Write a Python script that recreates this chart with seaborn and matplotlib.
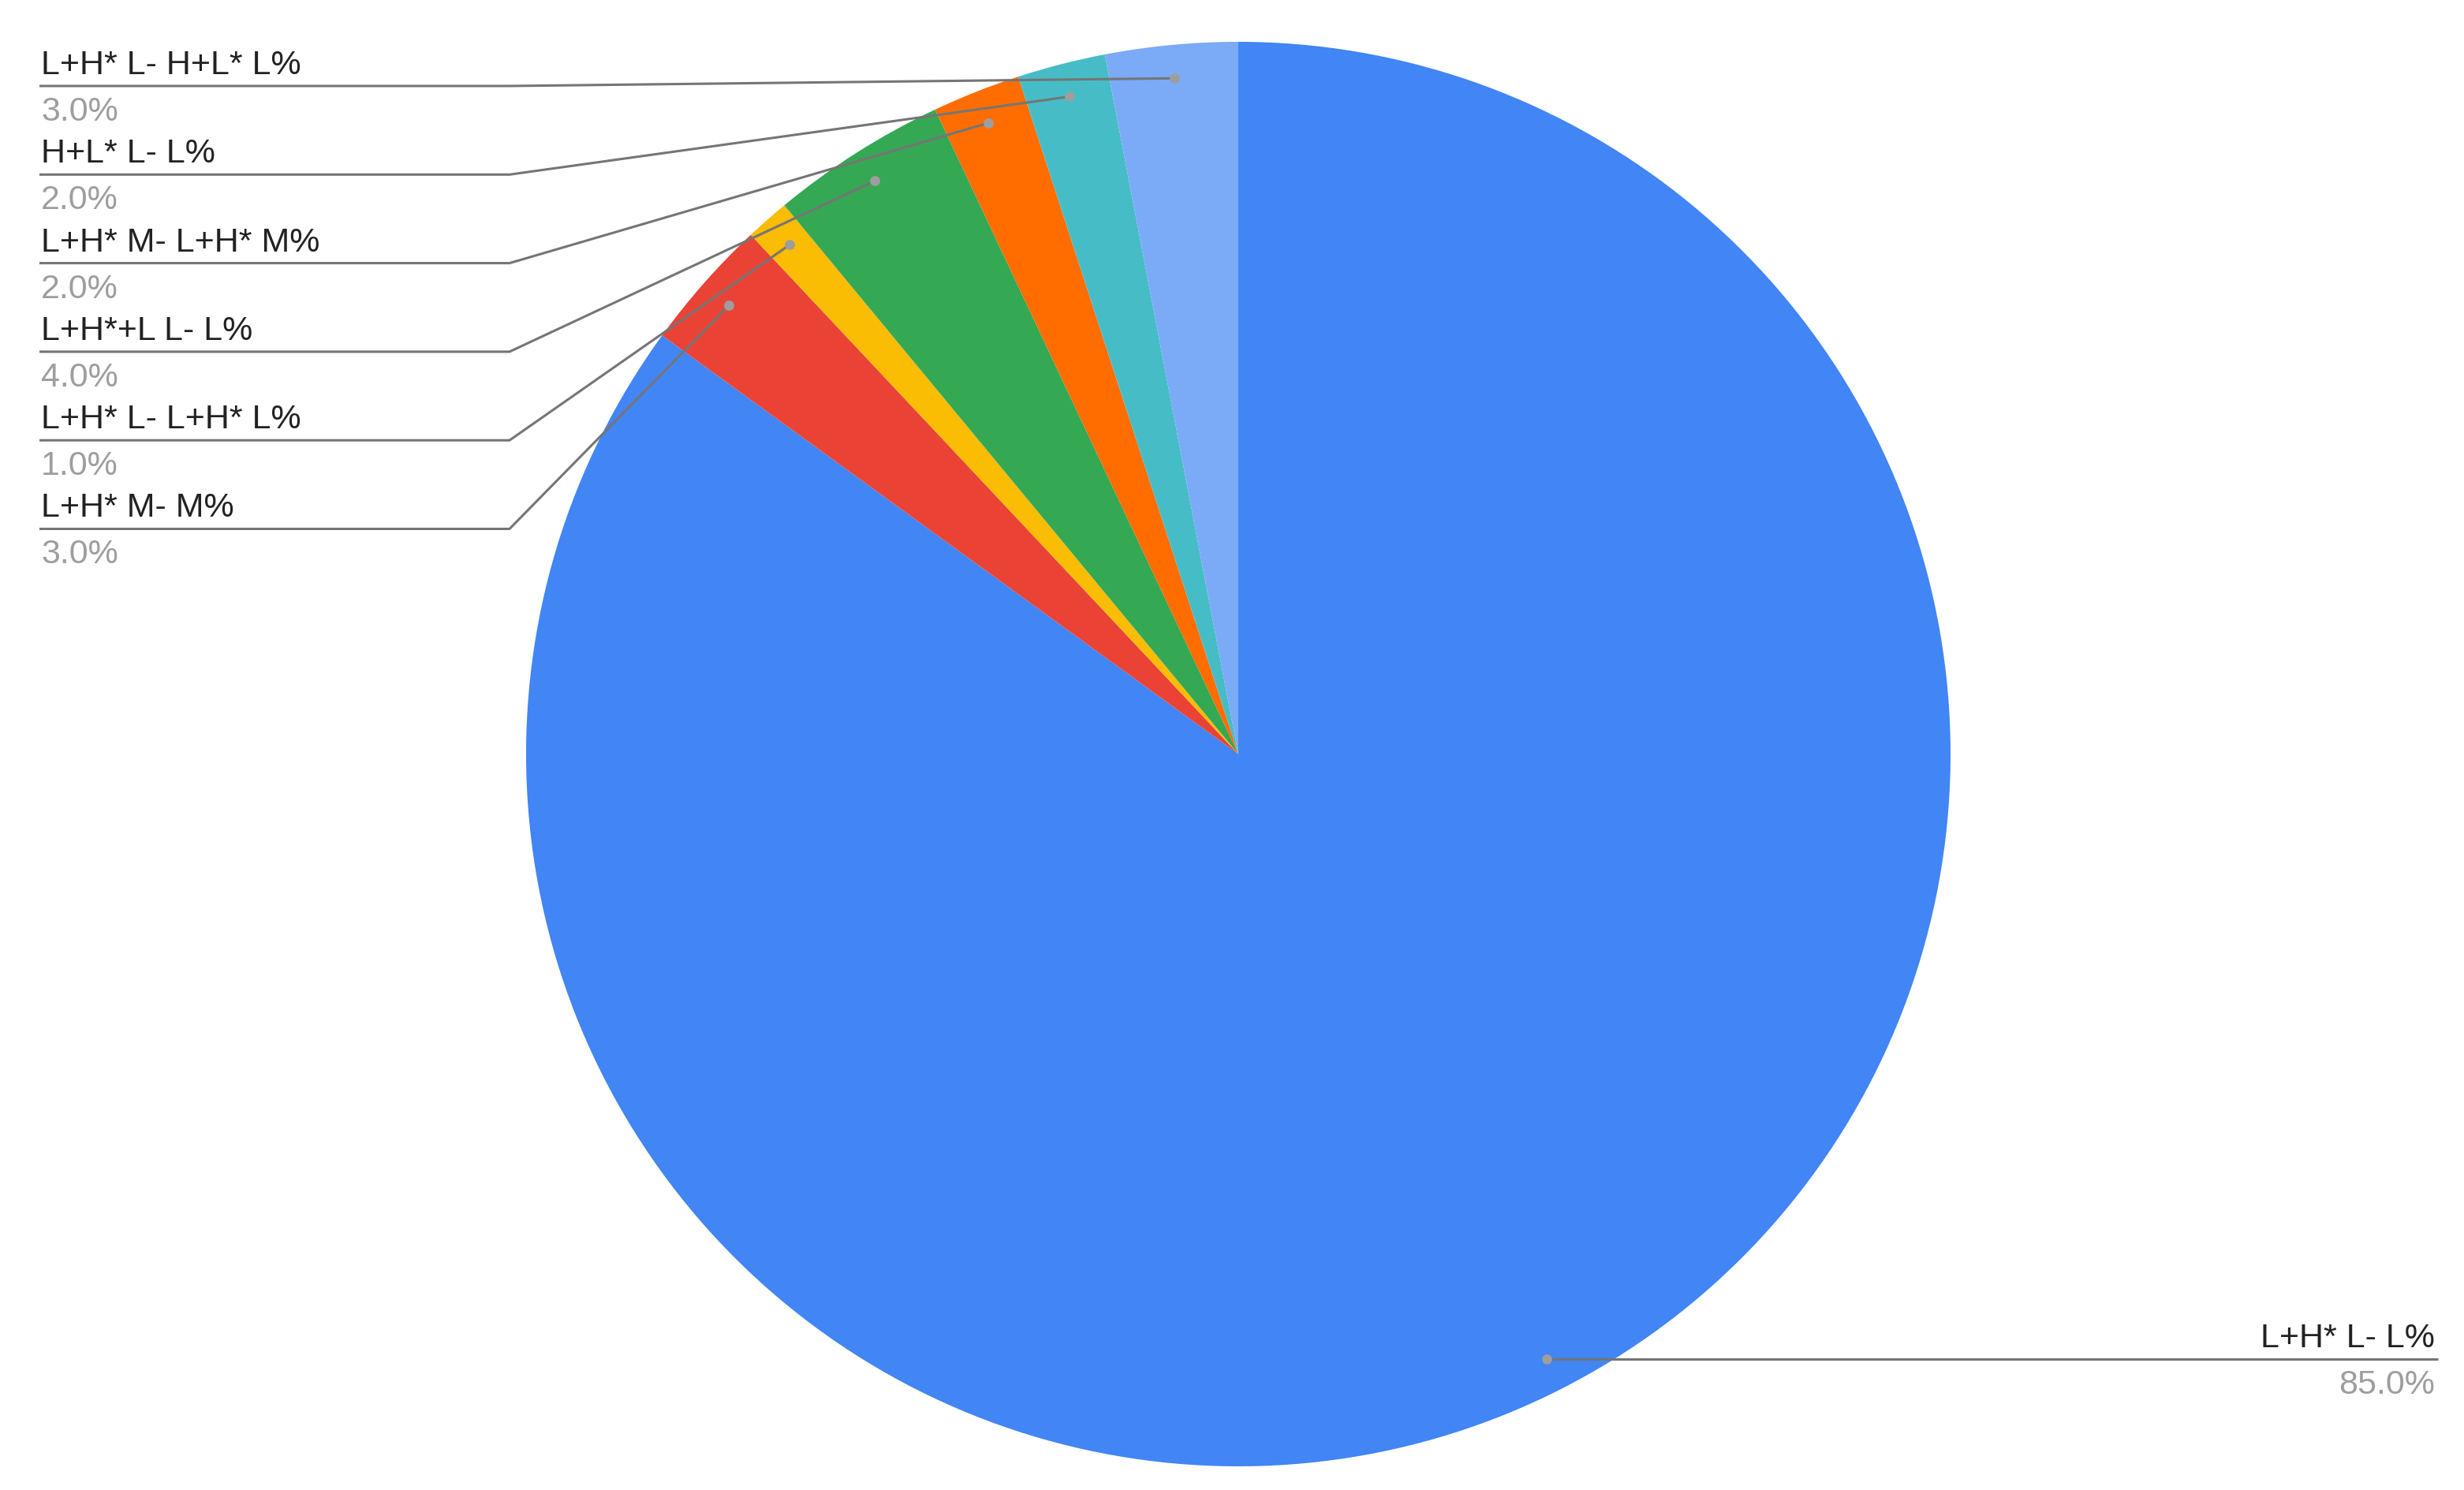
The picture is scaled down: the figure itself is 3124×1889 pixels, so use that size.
import numpy as np
import matplotlib
matplotlib.use("Agg")
import matplotlib.pyplot as plt
import seaborn as sns

# chart data
labels = ["L+H* L- L%", "L+H* M- M%", "L+H* L- L+H* L%", "L+H*+L L- L%",
          "L+H* M- L+H* M%", "H+L* L- L%", "L+H* L- H+L* L%"]
values = [85.0, 3.0, 1.0, 4.0, 2.0, 2.0, 3.0]
slice_colors = ["#4285F4", "#EA4335", "#FBBC04", "#34A853",
                "#FF6D01", "#46BDC6", "#7BAAF7"]

sns.set_theme(style="white")
plt.rcParams['font.family'] = ['Liberation Sans', 'DejaVu Sans']

W, H = 3124, 1890
DPI = 200
fig = plt.figure(figsize=(W / DPI, H / DPI), dpi=DPI, facecolor='white')
ax = fig.add_axes([0, 0, 1, 1])

# pie geometry in pixel units (y measured from top in the reference)
cx, cy, R = 1570, 957, 903
wedges, _ = ax.pie(values, colors=sns.color_palette(slice_colors), startangle=90,
                   counterclock=False, center=(cx, H - cy), radius=R,
                   wedgeprops=dict(linewidth=0))
ax.set_xlim(0, W)
ax.set_ylim(0, H)
ax.set_aspect('equal')
ax.axis('off')

line_col = "#757575"
dot_col = "#9E9E9E"
lab_col = "#222222"
pct_col = "#9E9E9E"
fs = 15.5
lw = 1.1


def anchor(w):
    mid = np.deg2rad((w.theta1 + w.theta2) / 2)
    r = 0.953 * R
    return cx + r * np.cos(mid), (H - cy) + r * np.sin(mid)


# small slices: labels stacked on the left, top to bottom
left_x, elbow_x = 50, 646
for i, k in enumerate(range(len(values) - 1, 0, -1)):
    ly = H - (110 + i * 112.3)
    dx, dy = anchor(wedges[k])
    ax.plot([dx, elbow_x, left_x], [dy, ly, ly], color=line_col, lw=lw,
            solid_capstyle='butt', zorder=3)
    ax.plot(dx, dy, 'o', color=dot_col, ms=4.6, mew=0, zorder=4)
    ax.text(left_x + 2, ly + 16, labels[k], color=lab_col, fontsize=fs,
            ha='left', va='baseline')
    ax.text(left_x + 2, ly - 43, f"{values[k]:.1f}%", color=pct_col, fontsize=fs,
            ha='left', va='baseline')

# big slice: label on the right
dx, dy = anchor(wedges[0])
right_x = 3091
ax.plot([dx, right_x], [dy, dy], color=line_col, lw=lw, solid_capstyle='butt', zorder=3)
ax.plot(dx, dy, 'o', color=dot_col, ms=4.6, mew=0, zorder=4)
ax.text(right_x - 4, dy + 16, labels[0], color=lab_col, fontsize=fs,
        ha='right', va='baseline')
ax.text(right_x - 4, dy - 43, f"{values[0]:.1f}%", color=pct_col, fontsize=fs,
        ha='right', va='baseline')

fig.savefig("out.png", dpi=DPI, facecolor='white')
plt.close(fig)
